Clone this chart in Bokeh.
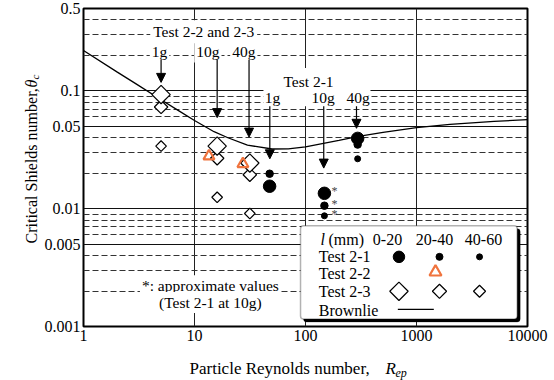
import math
from bokeh.plotting import figure
from bokeh.models import (FixedTicker, Label, Arrow, NormalHead, BoxAnnotation,
                          CustomJSTickFormatter)
from bokeh.core.properties import value
from bokeh.embed import file_html
from bokeh.resources import INLINE

NAN = float("nan")
FONT = "Liberation Serif"

# ---- data ----
x_ticks = [1, 10, 100, 1000, 10000]
y_ticks = [0.5, 0.1, 0.05, 0.01, 0.005, 0.001]

# Brownlie curve
brownlie_rep = [1, 2, 3, 5, 7, 10, 15, 20, 30, 50, 70, 100, 200, 300, 500, 1000, 2000, 5000, 10000]
brownlie_theta = [0.22, 0.145, 0.114, 0.084, 0.069, 0.056, 0.045, 0.040, 0.0346, 0.0321, 0.0322,
                  0.0335, 0.038, 0.041, 0.0445, 0.0488, 0.052, 0.055, 0.057]

# Test 2-1 (1g, 10g, 40g)
t21_rep = [47.5, 148, 295]
t21_l0_20 = [0.0155, 0.0135, 0.0395]
t21_l20_40 = [0.0198, 0.0106, 0.035]
t21_l40_60 = [NAN, 0.0087, 0.0265]
t21_approx = [False, True, False]   # approximate values (10g)

# Test 2-2 (20-40 mm)
t22_rep = [13.5, 27.3]
t22_l20_40 = [0.0279, 0.024]

# Test 2-3 (1g, 10g, 40g)
t23_rep = [5.0, 16.0, 31.5]
t23_l0_20 = [0.093, 0.034, 0.0244]
t23_l20_40 = [0.073, 0.0268, 0.0194]
t23_l40_60 = [0.034, 0.0125, 0.0091]

ORANGE = "#F0743E"

p = figure(x_axis_type="log", y_axis_type="log", x_range=(1, 10000), y_range=(0.001, 0.5),
           frame_width=444, frame_height=318, output_backend="svg", toolbar_location=None,
           min_border_left=83, min_border_right=26, min_border_top=8, min_border_bottom=53,
           background_fill_color="white", border_fill_color="white")
p.outline_line_color = "black"
p.outline_line_width = 2

fmt = CustomJSTickFormatter(code="return String(tick);")
for ax, ticks in ((p.xaxis[0], x_ticks), (p.yaxis[0], y_ticks)):
    ax.ticker = FixedTicker(ticks=ticks)
    ax.formatter = fmt
    ax.axis_line_color = None
    ax.major_tick_line_color = None
    ax.minor_tick_line_color = None
    ax.major_tick_in = 0
    ax.major_tick_out = 0
    ax.major_label_text_font = FONT
    ax.major_label_text_font_size = "16px"
    ax.major_label_text_color = "black"
    ax.major_label_standoff = 3

# grids
p.xgrid.ticker = FixedTicker(ticks=[10, 100, 1000])
p.xgrid.grid_line_color = "#222222"
p.xgrid.grid_line_width = 1
p.ygrid.ticker = FixedTicker(ticks=[0.1, 0.05, 0.01, 0.005],
                             minor_ticks=[0.4, 0.3, 0.2, 0.09, 0.08, 0.07, 0.06, 0.04, 0.03, 0.02,
                                          0.009, 0.008, 0.007, 0.006, 0.004, 0.003, 0.002])
p.ygrid.grid_line_color = "#111111"
p.ygrid.grid_line_width = 1
p.ygrid.minor_grid_line_color = "#333333"
p.ygrid.minor_grid_line_width = 1
p.ygrid.minor_grid_line_dash = "6 3"

# white blocking boxes / legend frame, drawn just above the grid
p.add_layout(BoxAnnotation(left=41.8, right=385, top=0.156, bottom=0.074, level="underlay",
                           fill_color="white", fill_alpha=1, line_color=None))
p.add_layout(BoxAnnotation(left=96, right=8590, top=0.00677, bottom=0.001094, level="underlay",
                           fill_color="black", fill_alpha=1, line_color="black",
                           border_radius=3))
p.add_layout(BoxAnnotation(left=90.2, right=8076, top=0.00718, bottom=0.00116, level="underlay",
                           fill_color="white", fill_alpha=1, line_color="black", line_width=1.5,
                           border_radius=3))

# Brownlie curve
p.line(brownlie_rep, brownlie_theta, line_color="black", line_width=1.3)

# Test 2-3 diamonds
DIA = dict(marker="square", angle=math.pi / 4, fill_color="white", line_color="black", line_width=1.2)
p.scatter(t23_rep, t23_l40_60, size=7.5, **DIA)
p.scatter(t23_rep, t23_l20_40, size=9.5, **DIA)
p.scatter(t23_rep, t23_l0_20, size=13, **DIA)

# Test 2-2 triangles
TRI = dict(marker="triangle", fill_color=None, line_color=ORANGE, line_width=2.2)
p.scatter(t22_rep, t22_l20_40, size=11, **TRI)

# Test 2-1 circles
p.scatter(t21_rep, t21_l0_20, size=12.5, marker="circle", color="black")
p.scatter(t21_rep, t21_l20_40, size=7.5, marker="circle", color="black")
p.scatter(t21_rep, t21_l40_60, size=6, marker="circle", color="black")

# asterisks: approximate values
ast_x, ast_y = [], []
for r, a, b, c, f in zip(t21_rep, t21_l0_20, t21_l20_40, t21_l40_60, t21_approx):
    if f:
        ast_x += [r, r, r]
        ast_y += [a, b, c]
p.text(ast_x, ast_y, text=["*"] * len(ast_x), x_offset=7, y_offset=-2,
       text_font=value(FONT), text_font_size="12px", text_color="#444444",
       text_align="left", text_baseline="middle")


def mk(x, y, text, size="15.5px", align="center", baseline="middle", bg="white", style="normal",
       angle=0, pad=2, units="data"):
    l = Label(x=x, y=y, text=text, text_font=FONT, text_font_size=size, text_align=align,
              text_baseline=baseline, text_font_style=style, angle=angle,
              text_color="black", x_units=units, y_units=units)
    if bg:
        l.background_fill_color = bg
        l.padding = pad
    return l


def lab(*a, place="center", **k):
    p.add_layout(mk(*a, **k), place)


# ---- annotations: Test 2-2 and 2-3 ----
lab(12.1, 0.317, "Test 2-2 and 2-3", pad=3)
lab(4.84, 0.214, "1g")
lab(13.2, 0.214, "10g")
lab(27.8, 0.214, "40g")
for xa, ytip in ((5.0, 0.118), (16.0, 0.0593), (31.0, 0.0405)):
    p.add_layout(Arrow(end=NormalHead(size=9, fill_color="black", line_color="black"),
                       x_start=xa, y_start=0.184, x_end=xa, y_end=ytip,
                       line_color="black", line_width=1.2))

# ---- annotations: Test 2-1 ----
lab(106.4, 0.121, "Test 2-1", bg=None)
lab(50.4, 0.088, "1g", bg=None)
lab(143.8, 0.088, "10g", bg=None)
lab(298.5, 0.088, "40g", bg=None)
for xa, ytip in ((47.7, 0.0265), (146, 0.0221), (288, 0.0481)):
    p.add_layout(Arrow(end=NormalHead(size=9, fill_color="black", line_color="black"),
                       x_start=xa, y_start=0.074, x_end=xa, y_end=ytip,
                       line_color="black", line_width=1.2))

# approximate values note
lab(13.9, 0.00222, "*: approximate values")
lab(13.9, 0.0016, "(Test 2-1 at 10g)")

# ---- legend table ----
LX = 131.8
lab(136.5, 0.00543, "l", size="16px", align="left", bg=None, style="italic")
lab(161, 0.00543, "(mm)", size="16px", align="left", bg=None)
lab(548, 0.00543, "0-20", size="16px", bg=None)
lab(1452, 0.00543, "20-40", size="16px", bg=None)
lab(4014, 0.00543, "40-60", size="16px", bg=None)
lab(LX, 0.00391, "Test 2-1", size="16px", align="left", bg=None)
lab(LX, 0.00279, "Test 2-2", size="16px", align="left", bg=None)
lab(LX, 0.00197, "Test 2-3", size="16px", align="left", bg=None)
lab(LX, 0.00138, "Brownlie", size="16px", align="left", bg=None)

leg_cols = [695, 1611, 3697]
p.scatter(leg_cols, [0.0039] * 3, size=[11.5, 7, 6], marker="circle", color="black")
p.scatter([1483], [0.0029], size=12, **TRI)
p.scatter(leg_cols, [0.00199] * 3, size=[13, 10, 8.5], **DIA)
p.line([679, 1432], [0.0014, 0.0014], line_color="black", line_width=1.3)

# ---- axis titles (canvas pixel positions, in the side panels) ----
lab(189, 368, "Particle Reynolds number,", size="17px", align="left", baseline="alphabetic",
    bg=None, units="canvas", place="below")
lab(385, 368, "R", size="17px", align="left", baseline="alphabetic", bg=None, style="italic",
    units="canvas", place="below")
lab(395, 372, "ep", size="12px", align="left", baseline="alphabetic", bg=None, style="italic",
    units="canvas", place="below")
lab(31, 243, "Critical Shields number,", size="16px", align="left", baseline="alphabetic",
    bg=None, angle=math.pi / 2, units="canvas", place="left")
lab(31, 87, "\u03b8", size="16px", align="left", baseline="alphabetic", bg=None, style="italic",
    angle=math.pi / 2, units="canvas", place="left")
lab(34, 79, "c", size="11px", align="left", baseline="alphabetic", bg=None, style="italic",
    angle=math.pi / 2, units="canvas", place="below")

open("out.html", "w").write(file_html(p, INLINE))
